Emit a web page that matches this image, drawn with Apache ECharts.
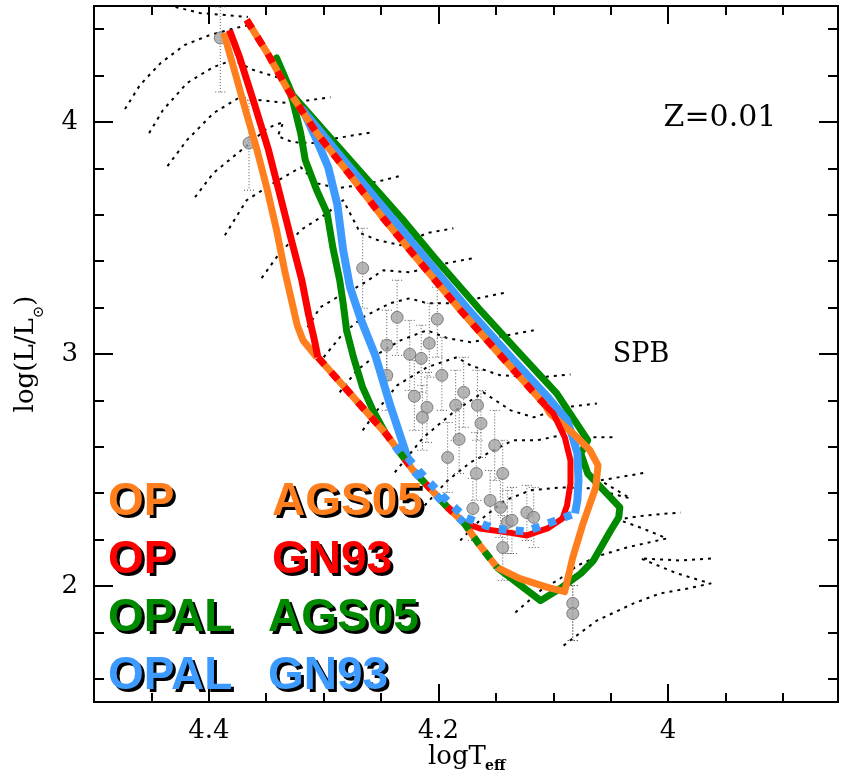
<!DOCTYPE html>
<html><head><meta charset="utf-8">
<script src="https://cdn.jsdelivr.net/npm/echarts@6/dist/echarts.min.js"></script>
<style>html,body{margin:0;padding:0;background:#fff}#c{width:845px;height:778px}</style>
</head><body><div id="c"></div>
<script>
// ---------------- axis ticks ----------------
const xMajorTicks = [4.4, 4.2, 4.0];
const xMinorTicks = [4.45, 4.35, 4.3, 4.25, 4.15, 4.1, 4.05, 3.95, 3.9];
const yMajorTicks = [2, 3, 4];
const yMinorTicks = [1.6, 1.8, 2.2, 2.4, 2.6, 2.8, 3.2, 3.4, 3.6, 3.8, 4.2, 4.4];
const X_MIN = 3.852, X_MAX = 4.5, Y_MIN = 1.5, Y_MAX = 4.5;

// ---------------- evolutionary tracks [logTeff, logL] ----------------
const track01 = [[4.429,4.496],[4.408,4.470],[4.386,4.461],[4.366,4.453]];
const track02 = [[4.473,4.056],[4.460,4.159],[4.442,4.254],[4.421,4.332],[4.399,4.375],[4.377,4.405],[4.364,4.418]];
const track03 = [[4.452,3.952],[4.440,4.051],[4.419,4.168],[4.396,4.237],[4.379,4.267],[4.361,4.224],[4.341,4.194],[4.329,4.181]];
const track04 = [[4.436,3.810],[4.419,3.922],[4.396,4.038],[4.373,4.107],[4.355,4.094],[4.332,4.082],[4.312,4.094],[4.294,4.107]];
const track05 = [[4.412,3.676],[4.396,3.780],[4.379,3.849],[4.364,3.909],[4.349,3.974],[4.335,4.000],[4.340,3.939],[4.327,3.913],[4.309,3.909],[4.288,3.931],[4.257,3.956]];
const track06 = [[4.386,3.512],[4.367,3.663],[4.344,3.736],[4.320,3.805],[4.306,3.736],[4.288,3.715],[4.268,3.728],[4.248,3.749],[4.231,3.771]];
const track07 = [[4.354,3.327],[4.341,3.417],[4.320,3.534],[4.297,3.607],[4.283,3.663],[4.268,3.521],[4.253,3.491],[4.233,3.469],[4.210,3.521],[4.187,3.542]];
const track08 = [[4.314,3.115],[4.303,3.201],[4.288,3.245],[4.268,3.296],[4.248,3.361],[4.225,3.352],[4.201,3.383],[4.184,3.400],[4.170,3.413]];
const track09 = [[4.300,2.986],[4.283,3.089],[4.266,3.158],[4.242,3.219],[4.225,3.240],[4.210,3.219],[4.184,3.219],[4.161,3.245],[4.140,3.266]];
const track10 = [[4.286,2.835],[4.271,2.930],[4.253,2.999],[4.233,3.059],[4.210,3.102],[4.192,3.068],[4.172,3.051],[4.149,3.072],[4.117,3.102]];
const track11 = [[4.266,2.671],[4.252,2.766],[4.236,2.865],[4.210,2.943],[4.184,2.986],[4.172,2.951],[4.146,2.908],[4.111,2.900],[4.085,2.912]];
const track12 = [[4.238,2.490],[4.213,2.641],[4.185,2.757],[4.161,2.835],[4.137,2.757],[4.117,2.727],[4.090,2.770],[4.062,2.787]];
const track13 = [[4.212,2.347],[4.192,2.455],[4.172,2.533],[4.149,2.593],[4.135,2.628],[4.114,2.628],[4.094,2.649],[4.076,2.641],[4.048,2.641]];
const track14 = [[4.181,2.196],[4.164,2.283],[4.142,2.369],[4.120,2.412],[4.094,2.425],[4.068,2.421],[4.033,2.378],[4.059,2.455],[4.018,2.490]];
const track15 = [[4.133,1.886],[4.111,1.981],[4.094,2.032],[4.079,2.088],[4.059,2.132],[4.036,2.166],[4.001,2.205],[4.022,2.248],[4.044,2.287],[4.020,2.304],[3.989,2.317]];
const track16 = [[4.091,1.743],[4.083,1.774],[4.062,1.851],[4.030,1.925],[4.007,1.968],[3.983,1.989],[3.963,2.011],[3.992,2.054],[4.024,2.119],[3.989,2.110],[3.961,2.119]];

// ---------------- SPB stars ----------------
const starTeff = [4.390,4.365,4.266,4.236,4.245,4.245,4.225,4.215,4.208,4.201,4.197,4.221,4.210,4.214,4.178,4.185,4.166,4.163,4.182,4.192,4.167,4.151,4.144,4.170,4.155,4.146,4.140,4.136,4.123,4.117,4.144,4.083,4.083];
const starLogL = [4.362,3.909,3.370,3.158,3.038,2.908,2.999,2.981,3.046,3.150,2.908,2.818,2.770,2.727,2.835,2.779,2.779,2.701,2.632,2.554,2.485,2.606,2.485,2.334,2.369,2.339,2.274,2.283,2.317,2.296,2.166,1.925,1.881];
const starLogLHigh = [4.496,4.094,3.542,3.318,3.189,3.059,3.145,3.124,3.219,3.288,3.072,2.973,2.921,2.865,2.986,2.930,2.930,2.843,2.779,2.705,2.662,2.757,2.628,2.464,2.498,2.464,2.412,2.425,2.434,2.425,2.304,2.002,2.002];
const starLogLLow = [4.129,3.706,3.197,2.994,2.887,2.757,2.843,2.835,2.900,2.986,2.757,2.671,2.619,2.585,2.684,2.628,2.628,2.554,2.485,2.403,2.369,2.455,2.339,2.196,2.239,2.209,2.140,2.140,2.196,2.166,2.024,1.765,1.765];

// ---------------- instability-strip boundaries ----------------
const opAgs05Hot = [[4.387,4.384],[4.379,4.245],[4.368,4.051],[4.358,3.879],[4.349,3.706],[4.341,3.534],[4.334,3.361],[4.328,3.232],[4.323,3.124],[4.318,3.059],[4.306,2.986]];
const opGn93Hot = [[4.382,4.396],[4.373,4.276],[4.360,4.073],[4.348,3.879],[4.338,3.685],[4.328,3.490],[4.319,3.318],[4.313,3.167],[4.308,3.059],[4.305,2.986]];
const opCoolShared = [[4.367,4.440],[4.349,4.297],[4.332,4.146],[4.306,3.952],[4.277,3.771],[4.248,3.585],[4.219,3.413],[4.183,3.201],[4.146,2.994],[4.107,2.779]];
const lowShared1 = [[4.305,2.986],[4.277,2.830],[4.246,2.658]];
const lowShared2 = [[4.246,2.658],[4.222,2.498],[4.192,2.339],[4.178,2.274]];
const lowShared3 = [[4.178,2.274],[4.164,2.175],[4.149,2.080]];
const opAgs05Rest = [[4.149,2.080],[4.129,2.032],[4.105,1.994],[4.090,1.976],[4.083,2.123],[4.074,2.270],[4.063,2.425],[4.061,2.520],[4.068,2.585],[4.083,2.658],[4.103,2.744],[4.107,2.779]];
const opGn93Rest = [[4.107,2.779],[4.100,2.744],[4.090,2.641],[4.085,2.541],[4.085,2.442],[4.088,2.347],[4.092,2.291],[4.105,2.248],[4.123,2.218],[4.140,2.231],[4.164,2.248],[4.178,2.274]];
const opalAgs05 = [[4.246,2.658],[4.257,2.757],[4.266,2.856],[4.274,2.986],[4.280,3.102],[4.283,3.219],[4.286,3.318],[4.292,3.460],[4.297,3.607],[4.306,3.706],[4.316,3.836],[4.320,3.952],[4.327,4.094],[4.341,4.276],[4.327,4.116],[4.277,3.836],[4.232,3.585],[4.203,3.413],[4.165,3.197],[4.130,3.007],[4.097,2.830],[4.070,2.628],[4.076,2.572],[4.070,2.485],[4.056,2.412],[4.042,2.339],[4.043,2.296],[4.050,2.239],[4.065,2.110],[4.076,2.054],[4.094,1.989],[4.111,1.937],[4.149,2.080]];
const opalGn93 = [[4.227,2.554],[4.242,2.779],[4.255,2.994],[4.268,3.154],[4.277,3.288],[4.283,3.447],[4.288,3.642],[4.296,3.805],[4.306,3.922],[4.318,4.051],[4.286,3.857],[4.239,3.577],[4.210,3.404],[4.172,3.180],[4.136,2.981],[4.104,2.809],[4.088,2.714],[4.083,2.641],[4.079,2.572],[4.078,2.455],[4.079,2.369],[4.081,2.313]];
const opalGn93Low = [[4.227,2.554],[4.216,2.490],[4.197,2.390],[4.177,2.296],[4.152,2.248],[4.124,2.235],[4.100,2.278],[4.081,2.313]];

// ---------------- legend ----------------
const legendRows = [
  {left:'OP',   right:'AGS05', color:'#ff7f1e'},
  {left:'OP',   right:'GN93',  color:'#ff0000'},
  {left:'OPAL', right:'AGS05', color:'#008a00'},
  {left:'OPAL', right:'GN93',  color:'#3d9bff'}
];
const ORANGE = '#ff7f1e', RED = '#ff0000', GREEN = '#008a00', BLUE = '#3d9bff';

const chart = echarts.init(document.getElementById('c'));

function ln(data, color, width, type, z, offset) {
  return {type:'line', data:data, showSymbol:false, silent:true, z:z, xAxisIndex:0, yAxisIndex:0,
    lineStyle:{color:color, width:width, type:type || 'solid', dashOffset:offset || 0, cap:'butt', join:'round'}};
}
const series = [];
[track01,track02,track03,track04,track05,track06,track07,track08,track09,track10,track11,track12,track13,track14,track15,track16]
  .forEach(t => series.push(ln(t, '#000', 2, [3,5], 1)));

series.push({
  type:'custom', z:2, silent:true, xAxisIndex:0, yAxisIndex:0,
  data: starTeff.map((t,i) => [t, starLogLLow[i], starLogLHigh[i]]),
  encode:{x:0, y:[1,2]},
  renderItem: function(params, api) {
    const x = api.value(0);
    const a = api.coord([x, api.value(2)]), b = api.coord([x, api.value(1)]);
    const st = {stroke:'#555', lineWidth:1, lineDash:[1,2]};
    return {type:'group', children:[
      {type:'line', shape:{x1:a[0],y1:a[1],x2:b[0],y2:b[1]}, style:st},
      {type:'line', shape:{x1:a[0]-5,y1:a[1],x2:a[0]+5,y2:a[1]}, style:st},
      {type:'line', shape:{x1:b[0]-5,y1:b[1],x2:b[0]+5,y2:b[1]}, style:st}
    ]};
  }
});
series.push({type:'scatter', z:3, silent:true, xAxisIndex:0, yAxisIndex:0, symbol:'circle', symbolSize:12,
  data: starTeff.map((t,i)=>[t, starLogL[i]]),
  itemStyle:{color:'#a2a2a2', borderColor:'#6a6a6a', borderWidth:1}});

series.push(ln(opAgs05Hot, ORANGE, 7, 'solid', 5));
series.push(ln(opGn93Hot, RED, 7, 'solid', 5));
series.push(ln(opalAgs05, GREEN, 7, 'solid', 6));
series.push(ln(opalGn93, BLUE, 8, 'solid', 7));
series.push(ln(opCoolShared, ORANGE, 7, 'solid', 8));
series.push(ln(opCoolShared, RED, 7, [10,10], 9));
series.push(ln(lowShared1, ORANGE, 7, 'solid', 8));
series.push(ln(lowShared1, RED, 7, [10,10], 9));
series.push(ln(lowShared2, ORANGE, 7, 'solid', 8));
series.push(ln(lowShared2, RED, 7, [8,24], 9, 0));
series.push(ln(lowShared2, GREEN, 7, [8,24], 9, 8));
series.push(ln(lowShared2, BLUE, 8, [8,24], 9, 16));
series.push(ln(lowShared3, ORANGE, 7, 'solid', 8));
series.push(ln(lowShared3, GREEN, 7, [9,9], 9));
series.push(ln(opAgs05Rest, ORANGE, 7, 'solid', 8));
series.push(ln(opGn93Rest, RED, 6, 'solid', 8));
series.push(ln(opalGn93Low, BLUE, 8, [8,9], 10));

const fmtX = v => Math.abs(v-4) < 1e-9 ? '4' : v.toFixed(1);
const fmtY = v => String(Math.round(v));
const serif = 'DejaVu Serif';
function xAx(grid, pos, ticks, len, labels) {
  return {gridIndex:grid, type:'value', inverse:true, min:X_MIN, max:X_MAX, position:pos,
    axisLine:{show:true, onZero:false, lineStyle:{color:'#000', width:2}},
    axisTick:{show:true, inside:true, length:len, customValues:ticks, lineStyle:{color:'#000', width:2}},
    axisLabel: labels ? {show:true, customValues:ticks, formatter:fmtX, color:'#000', fontFamily:serif, fontSize:26, margin:16}
                      : {show:false},
    splitLine:{show:false}};
}
function yAx(grid, pos, ticks, len, labels) {
  return {gridIndex:grid, type:'value', min:Y_MIN, max:Y_MAX, position:pos,
    axisLine:{show:true, onZero:false, lineStyle:{color:'#000', width:2}},
    axisTick:{show:true, inside:true, length:len, customValues:ticks, lineStyle:{color:'#000', width:2}},
    axisLabel: labels ? {show:true, customValues:ticks, formatter:fmtY, color:'#000', fontFamily:serif, fontSize:26, margin:16}
                      : {show:false},
    splitLine:{show:false}};
}

const graphics = [];
legendRows.forEach((r, i) => {
  const y = 502 + i*58;
  const rx = i < 2 ? 272 : 268;
  [[r.left,108],[r.right,rx]].forEach(([txt, x]) => {
    graphics.push({type:'text', x:x+3, y:y+3, z:100, silent:true,
      style:{text:txt, fill:'#000', font:'bold 46px "Liberation Sans"', textVerticalAlign:'middle'}});
    graphics.push({type:'text', x:x, y:y, z:101, silent:true,
      style:{text:txt, fill:r.color, font:'bold 46px "Liberation Sans"', textVerticalAlign:'middle'}});
  });
});
graphics.push({type:'text', x:720, y:118, z:100, style:{text:'Z=0.01', fill:'#000', font:'30px "DejaVu Serif"', textAlign:'center', textVerticalAlign:'middle'}});
graphics.push({type:'text', x:641, y:355, z:100, style:{text:'SPB', fill:'#000', font:'27px "DejaVu Serif"', textAlign:'center', textVerticalAlign:'middle'}});
graphics.push({type:'text', x:428, y:757, z:100, style:{text:'logT', fill:'#000', font:'26px "DejaVu Serif"', textAlign:'left', textVerticalAlign:'middle'}});
graphics.push({type:'text', x:485, y:766, z:100, style:{text:'eff', fill:'#000', font:'bold 14px "DejaVu Serif"', textAlign:'left', textVerticalAlign:'middle'}});
graphics.push({type:'text', x:30, y:354, z:100, rotation:Math.PI/2,
  style:{text:'{a|log(L/L}{b|⊙}{a|)}', textAlign:'center', textVerticalAlign:'middle',
    rich:{a:{fontFamily:serif, fontSize:26, fill:'#000', lineHeight:34, verticalAlign:'top'},
          b:{fontFamily:serif, fontSize:15, fill:'#000', lineHeight:16, verticalAlign:'bottom'}}}});

chart.setOption({
  animation:false,
  backgroundColor:'#fff',
  grid:[{left:94, right:7, top:6, bottom:76}, {left:94, right:7, top:6, bottom:76}],
  xAxis:[xAx(0,'bottom',xMajorTicks,18,true), xAx(0,'top',xMajorTicks,18,false),
         xAx(1,'bottom',xMinorTicks,9,false), xAx(1,'top',xMinorTicks,9,false)],
  yAxis:[yAx(0,'left',yMajorTicks,19,true), yAx(0,'right',yMajorTicks,19,false),
         yAx(1,'left',yMinorTicks,10,false), yAx(1,'right',yMinorTicks,10,false)],
  series: series,
  graphic: graphics
});
</script></body></html>
